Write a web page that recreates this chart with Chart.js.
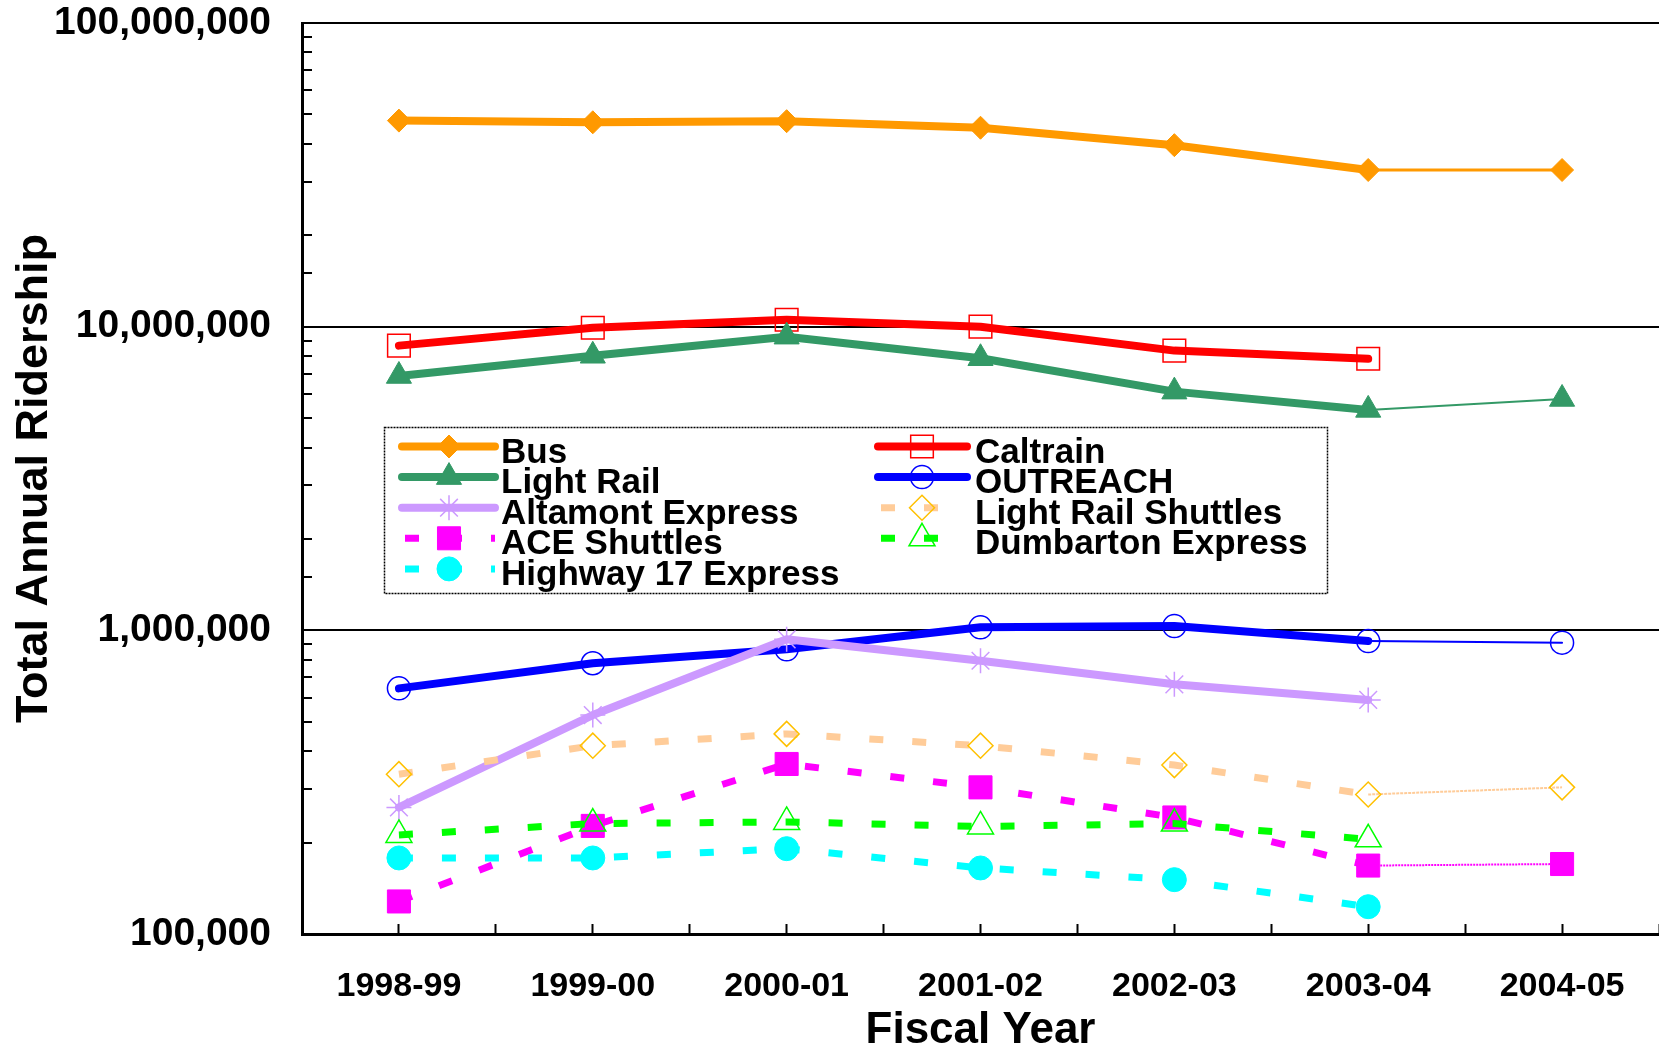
<!DOCTYPE html>
<html>
<head>
<meta charset="utf-8">
<style>
html,body{margin:0;padding:0;background:#fff;overflow:hidden}
#wrap{width:1659px;height:1050px;position:relative}
</style>
<script src="https://cdn.jsdelivr.net/npm/chart.js"></script>
</head>
<body>
<div id="wrap"><canvas id="c" width="1659" height="1050"></canvas></div>
<script>
// ---------------- data ----------------
const fiscalYears = ['1998-99','1999-00','2000-01','2001-02','2002-03','2003-04','2004-05'];
const seriesNames = ['Bus','Caltrain','Light Rail','OUTREACH','Altamont Express',
  'Light Rail Shuttles','ACE Shuttles','Dumbarton Express','Highway 17 Express'];
const busRiders        = [47700000, 47100000, 47500000, 45200000, 39600000, 32800000, 32800000];
const caltrainRiders   = [8660000, 9920000, 10540000, 10000000, 8340000, 7840000, null];
const lightRailRiders  = [6880000, 8020000, 9270000, 7870000, 6110000, 5320000, 5780000];
const outreachRiders   = [644000, 779000, 866000, 1023000, 1033000, 922000, 911000];
const altamontRiders   = [261000, 526000, 934000, 794000, 664000, 590000, null];
const lrShuttleRiders  = [336000, 417000, 456000, 417000, 360000, 288000, 304000];
const aceShuttleRiders = [128000, 227000, 363000, 304000, 242000, 168000, 170000];
const dumbartonRiders  = [212000, 231000, 234000, 226000, 231000, 205000, null];
const hwy17Riders      = [178000, 178000, 191000, 165000, 151000, 123000, null];
const yMin = 100000, yMax = 100000000;

// ---------------- styles ----------------
const FONT = "'Liberation Sans', Arial, sans-serif";
const lastIdx = fiscalYears.length - 1;
function thinLast(w, dash) {
  return {
    borderWidth: c => c.p1DataIndex === lastIdx ? w : undefined,
    borderDash: c => c.p1DataIndex === lastIdx ? dash : undefined
  };
}
const solidW = 8, dashW = 7, DASH = [14, 29];

function solidSet(label, data, color, ps, r, fill, pbw, thin) {
  return {
    label, data, borderColor: color, borderWidth: solidW, borderCapStyle: 'round',
    borderJoinStyle: 'round', borderDash: [],
    pointStyle: ps, pointRadius: r, pointHoverRadius: r,
    pointBackgroundColor: fill.bg, pointBorderColor: fill.border, pointBorderWidth: pbw,
    tension: 0, fill: false, segment: thinLast(thin, [])
  };
}
function dashSet(label, data, color, ps, r, fill, pbw, thin, thinDash) {
  return {
    label, data, borderColor: color, borderWidth: dashW, borderCapStyle: 'butt',
    borderJoinStyle: 'miter', borderDash: DASH,
    pointStyle: ps, pointRadius: r, pointHoverRadius: r,
    pointBackgroundColor: fill.bg, pointBorderColor: fill.border, pointBorderWidth: pbw,
    tension: 0, fill: false, segment: thinLast(thin, thinDash)
  };
}
const NONE = 'rgba(0,0,0,0)';
const datasets = [
  solidSet(seriesNames[0], busRiders, '#FF9900', 'rectRot', 11.5, {bg:'#FF9900', border:'#FF9900'}, 1, 3),
  solidSet(seriesNames[1], caltrainRiders, '#FF0000', 'rect', 16, {bg:NONE, border:'#FF0000'}, 1.5, 3),
  solidSet(seriesNames[2], lightRailRiders, '#339966', 'triangle', 14.5, {bg:'#339966', border:'#339966'}, 1, 2),
  solidSet(seriesNames[3], outreachRiders, '#0000FF', 'circle', 11.5, {bg:NONE, border:'#0000FF'}, 1.5, 2),
  solidSet(seriesNames[4], altamontRiders, '#CC99FF', 'star', 12.5, {bg:NONE, border:'#CC99FF'}, 1.5, 2),
  dashSet(seriesNames[5], lrShuttleRiders, '#FFCC99', 'rectRot', 12.5, {bg:NONE, border:'#FFC000'}, 1.5, 2, [3, 1]),
  dashSet(seriesNames[6], aceShuttleRiders, '#FF00FF', 'rect', 16.3, {bg:'#FF00FF', border:'#FF00FF'}, 1, 2, [2, 1]),
  dashSet(seriesNames[7], dumbartonRiders, '#00FF00', 'triangle', 15, {bg:NONE, border:'#00FF00'}, 1.5, 2, []),
  dashSet(seriesNames[8], hwy17Riders, '#00FFFF', 'circle', 12, {bg:'#00FFFF', border:'#00FFFF'}, 1, 2, [])
];
// later series drawn on top
datasets.forEach((d, i) => { d.order = datasets.length - i; });

// ---------------- boxed legend (two columns) ----------------
const boxLegend = {
  id: 'boxLegend',
  afterDraw(chart) {
    const ctx = chart.ctx;
    const H = Chart.helpers;
    ctx.save();
    ctx.fillStyle = '#fff';
    ctx.fillRect(384, 427, 944, 167);
    ctx.setLineDash([2, 1]);
    ctx.lineWidth = 1.5;
    ctx.strokeStyle = '#000';
    ctx.strokeRect(384.5, 427.5, 943, 166);
    const cols = [
      {x0: 402, x1: 495, mx: 449, tx: 501},
      {x0: 878, x1: 967, mx: 922, tx: 975}
    ];
    chart.data.datasets.forEach((ds, i) => {
      const c = cols[i % 2];
      const y = 446.5 + Math.floor(i / 2) * 30.6;
      ctx.save();
      ctx.strokeStyle = ds.borderColor;
      ctx.lineWidth = ds.borderWidth;
      const dashed = ds.borderDash && ds.borderDash.length;
      ctx.setLineDash(dashed ? ds.borderDash : []);
      ctx.lineCap = ds.borderCapStyle;
      ctx.beginPath();
      ctx.moveTo(dashed ? c.x0 + 3 : c.x0, y);
      ctx.lineTo(c.x1, y);
      ctx.stroke();
      ctx.restore();
      ctx.save();
      ctx.setLineDash([]);
      ctx.fillStyle = ds.pointBackgroundColor;
      ctx.strokeStyle = ds.pointBorderColor;
      ctx.lineWidth = ds.pointBorderWidth;
      H.drawPoint(ctx, {pointStyle: ds.pointStyle, radius: ds.pointRadius, rotation: 0,
        borderWidth: ds.pointBorderWidth}, c.mx, y);
      ctx.restore();
      ctx.fillStyle = '#000';
      ctx.font = 'bold 35px ' + FONT;
      ctx.textAlign = 'left';
      ctx.textBaseline = 'alphabetic';
      ctx.fillText(ds.label, c.tx, y + 16);
    });
    ctx.restore();
  }
};

const isDecade = v => { const l = Math.log10(v); return Math.abs(l - Math.round(l)) < 1e-9; };
const noPad = s => { s.paddingTop = 0; s.paddingBottom = 0; s.paddingLeft = 0; s.paddingRight = 0; };

new Chart(document.getElementById('c'), {
  type: 'line',
  data: { labels: fiscalYears, datasets },
  plugins: [boxLegend],
  options: {
    responsive: false,
    devicePixelRatio: 1,
    animation: false,
    layout: { autoPadding: false, padding: { top: 23, right: 0, bottom: 0, left: 0 } },
    plugins: { legend: { display: false }, tooltip: { enabled: false } },
    scales: {
      x: {
        type: 'category',
        position: 'bottom',
        weight: 1,
        offset: true,
        grid: { offset: false, drawOnChartArea: false, drawTicks: true, tickLength: -10,
                tickColor: '#000', tickWidth: 2 },
        border: { display: true, color: '#000', width: 3 },
        ticks: { color: '#000', font: { family: FONT, size: 34, weight: 'bold', lineHeight: 1 },
                 padding: 46, maxRotation: 0, autoSkip: false },
        title: { display: true, text: 'Fiscal Year', color: '#000',
                 font: { family: FONT, size: 44, weight: 'bold', lineHeight: 1 },
                 padding: { top: 0, bottom: -3 } },
        afterFit: s => { s.height = 116; noPad(s); }
      },
      x2: {
        type: 'category',
        labels: fiscalYears,
        position: 'bottom',
        weight: 0,
        offset: true,
        grid: { offset: true, drawOnChartArea: false, drawTicks: true, tickLength: -10,
                tickColor: '#000', tickWidth: 2 },
        border: { display: false },
        ticks: { display: false },
        afterFit: s => { s.height = 0; noPad(s); }
      },
      y: {
        type: 'logarithmic',
        position: 'left',
        min: yMin,
        max: yMax,
        grid: {
          drawOnChartArea: true, drawTicks: true, tickLength: -10,
          color: c => (c.tick && isDecade(c.tick.value)) ? '#000' : NONE,
          lineWidth: 2, tickColor: '#000', tickWidth: 2
        },
        border: { display: true, color: '#000', width: 3 },
        ticks: {
          autoSkip: false, color: '#000', padding: 41,
          font: { family: FONT, size: 39, weight: 'bold', lineHeight: 1 },
          callback: v => isDecade(v) ? Number(v).toLocaleString('en-US') : ''
        },
        title: { display: true, text: 'Total Annual Ridership', color: '#000',
                 font: { family: FONT, size: 45, weight: 'bold', lineHeight: 1 },
                 padding: { top: 12, bottom: 0 } },
        afterFit: s => { s.width = 302; noPad(s); }
      }
    }
  }
});
</script>
</body>
</html>
